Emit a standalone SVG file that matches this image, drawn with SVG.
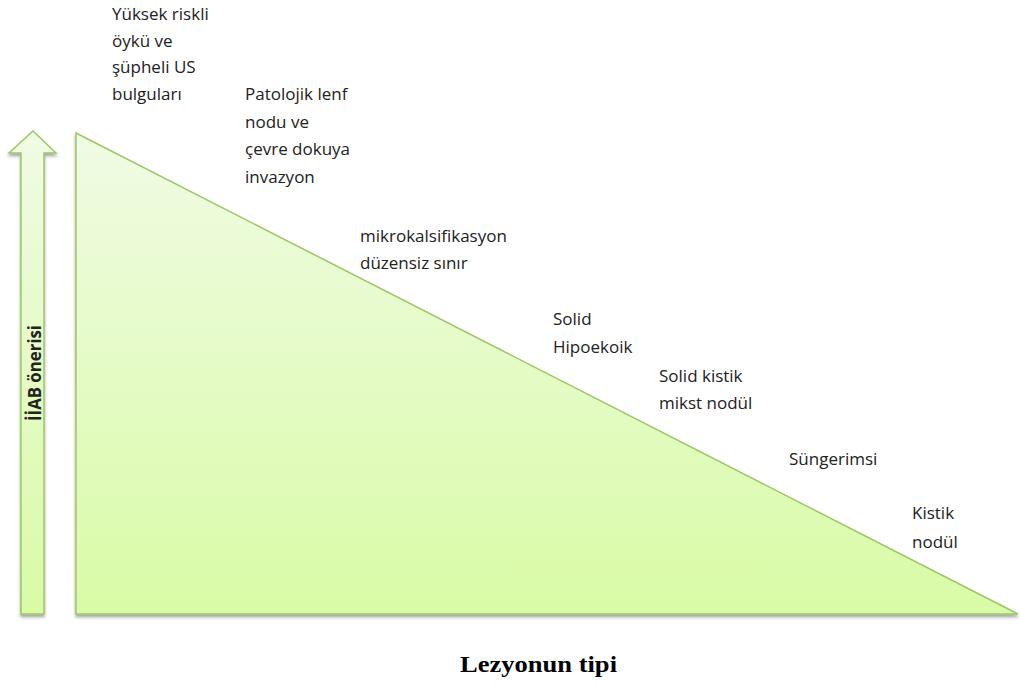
<svg xmlns="http://www.w3.org/2000/svg" width="1020" height="686" viewBox="0 0 1020 686">
  <style>
    .lbl { font-family: "Open Sans", "Noto Sans", sans-serif; font-size: 17px; fill: #222; }
    .shape { fill: url(#greenFade); stroke: #9cc764; stroke-width: 1.5; filter: url(#shadow); }
  </style>
  <defs>
    <linearGradient id="greenFade" x1="0" y1="0" x2="0" y2="1">
      <stop offset="0" stop-color="#f0fbe4"/>
      <stop offset="1" stop-color="#d9fba6"/>
    </linearGradient>
    <filter id="shadow" x="-10%" y="-10%" width="120%" height="120%">
      <feDropShadow dx="0" dy="2.5" stdDeviation="1.5" flood-color="#000" flood-opacity="0.35"/>
    </filter>
  </defs>

  <!-- vertical arrow -->
  <g id="arrow">
    <path class="shape" d="M33,131 L56,153 L44,153 L44,614 L21,614 L21,153 L9,153 Z"/>
    <text class="lbl" font-weight="bold" font-size="16" transform="translate(41,373) rotate(-90)" text-anchor="middle" textLength="96" lengthAdjust="spacingAndGlyphs">İİAB önerisi</text>
  </g>

  <!-- right triangle -->
  <g id="triangle">
    <path class="shape" d="M76,133 L1018,614 L76,614 Z"/>
  </g>

  <g id="labels">
    <text class="lbl" x="112" y="20">Yüksek riskli</text>
    <text class="lbl" x="112" y="47">öykü ve</text>
    <text class="lbl" x="112" y="73">şüpheli US</text>
    <text class="lbl" x="112" y="100">bulguları</text>

    <text class="lbl" x="245" y="100">Patolojik lenf</text>
    <text class="lbl" x="245" y="128">nodu ve</text>
    <text class="lbl" x="245" y="155">çevre dokuya</text>
    <text class="lbl" x="245" y="183">invazyon</text>

    <text class="lbl" x="360" y="242">mikrokalsifikasyon</text>
    <text class="lbl" x="360" y="269">düzensiz sınır</text>

    <text class="lbl" x="553" y="325">Solid</text>
    <text class="lbl" x="553" y="353">Hipoekoik</text>

    <text class="lbl" x="659" y="382">Solid kistik</text>
    <text class="lbl" x="659" y="409">mikst nodül</text>

    <text class="lbl" x="789" y="465">Süngerimsi</text>

    <text class="lbl" x="912" y="519">Kistik</text>
    <text class="lbl" x="912" y="548">nodül</text>
  </g>

  <text x="538.5" y="672" text-anchor="middle" font-family="'Liberation Serif', serif" font-weight="bold" font-size="24" fill="#000" textLength="157" lengthAdjust="spacingAndGlyphs">Lezyonun tipi</text>
</svg>
